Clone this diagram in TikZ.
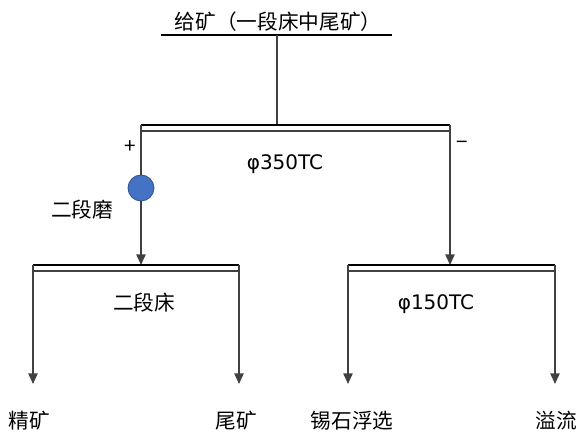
\documentclass[tikz,border=0pt]{standalone}
\usepackage{fontspec}
\setmainfont{Noto Sans CJK SC}
\newfontfamily\latinf{DejaVu Sans}
\usetikzlibrary{arrows.meta}
\begin{document}
\begin{tikzpicture}[x=0.75pt,y=-0.75pt,
  lbl/.style={inner sep=0pt,font=\fontsize{15.5pt}{18pt}\selectfont},
  lat/.style={inner sep=0pt,font=\latinf\fontsize{15pt}{18pt}\selectfont},
  flow/.style={draw=black!75,line width=1.1pt},
  arr/.style={flow,-{Triangle[width=7pt,length=8pt]}},
  barA/.style={draw=black,line width=1.6pt},
  barB/.style={draw=black!75,line width=1.1pt}]
\useasboundingbox (0,0) rectangle (579,434);
% top feed
\node[lbl] (feed) at (278,22) {给矿（一段床中尾矿）};
\coordinate (ul) at (161,35); \coordinate (ur) at (392,35);
\draw[line width=1pt] (ul) -- (ur);
\coordinate (fj) at (277,35);
% first box (phi350TC)
\coordinate (a1) at (141,125); \coordinate (a2) at (450,125);
\coordinate (a1b) at (141,131); \coordinate (a2b) at (450,131);
\coordinate (aj) at (277,125);
\draw[flow] (fj) -- (aj);
\draw[barA] (a1) -- (a2);
\draw[barB] (a1b) -- (a2b);
\node[lbl] (plus) at (130,147) {+};
\node[lbl] (minus) at (462,145) {−};
\node[lat] (t350) at (285,164) {φ350TC};
\node[circle,fill={rgb,255:red,68;green,114;blue,196},draw={rgb,255:red,47;green,82;blue,143},line width=0.6pt,inner sep=0pt,minimum size=19.5pt] (mill) at (141,188) {};
\node[lbl] (millt) at (82,210) {二段磨};
% second-level boxes
\coordinate (b1) at (33,265); \coordinate (b2) at (239,265);
\coordinate (b1b) at (33,271); \coordinate (b2b) at (239,271);
\coordinate (bt) at (141,265);
\coordinate (c1) at (348,265); \coordinate (c2) at (555,265);
\coordinate (c1b) at (348,271); \coordinate (c2b) at (555,271);
\coordinate (ct) at (450,265);
\draw[flow] (a1) -- (mill);
\draw[arr] (mill) -- (bt);
\draw[arr] (a2) -- (ct);
\draw[barA] (b1) -- (b2);
\draw[barB] (b1b) -- (b2b);
\draw[barA] (c1) -- (c2);
\draw[barB] (c1b) -- (c2b);
\node[lbl] (t2) at (144,303) {二段床};
\node[lat] (t150) at (436,304) {φ150TC};
% outputs
\node[lbl] (o1) at (29,421) {精矿};
\node[lbl] (o2) at (236,421) {尾矿};
\node[lbl] (o3) at (352,421) {锡石浮选};
\node[lbl] (o4) at (556,421) {溢流};
\coordinate (e1) at (33,384); \coordinate (e2) at (239,384);
\coordinate (e3) at (348,384); \coordinate (e4) at (555,384);
\draw[arr] (b1) -- (e1);
\draw[arr] (b2) -- (e2);
\draw[arr] (c1) -- (e3);
\draw[arr] (c2) -- (e4);
\end{tikzpicture}
\end{document}
